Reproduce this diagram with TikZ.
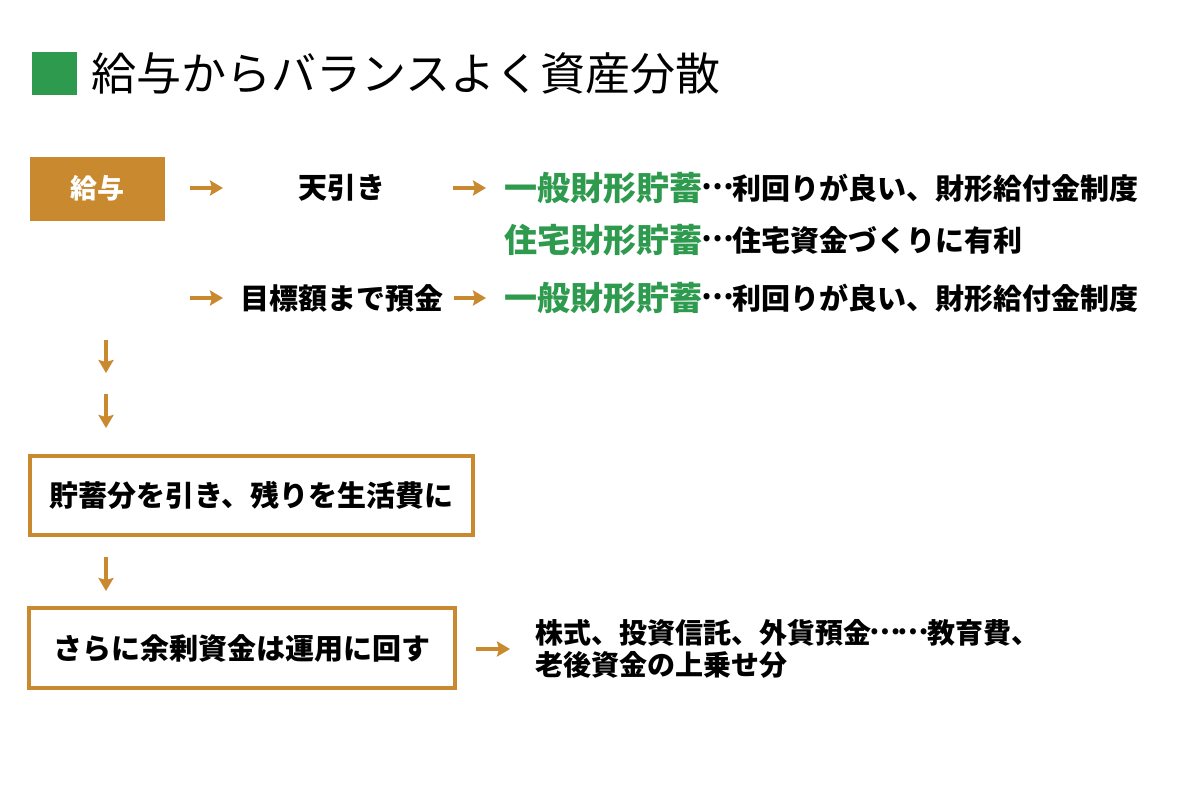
\documentclass[tikz,border=0pt]{standalone}
\usepackage{fontspec}
\setmainfont{Noto Sans CJK JP}
\usetikzlibrary{arrows.meta}
\definecolor{org}{HTML}{C8892F}
\definecolor{grn}{HTML}{2E9A4E}
\newcommand{\fs}[2]{\fontsize{#1}{#2}\selectfont}
\newcommand{\el}{\makebox[1em][c]{\raisebox{0.32em}{…}}}
\begin{document}
\begin{tikzpicture}[x=0.5pt,y=-0.5pt,
  arr/.style={draw=org,line width=2pt,-{Stealth[length=6.5pt,width=7.5pt,inset=1pt]}},
  txt/.style={inner sep=0pt,anchor=west,font=\fs{14.5pt}{17pt}\bfseries},
  grtxt/.style={inner sep=0pt,anchor=west,text=grn,font=\fs{16.5pt}{19pt}\bfseries},
  obox/.style={draw=org,line width=1.75pt,inner sep=0pt,font=\fs{14.5pt}{17pt}\bfseries},
  ]
\fill[white] (0,0) rectangle (1200,800);
\useasboundingbox (0,0) rectangle (1200,800);

% title
\node[fill=grn,minimum width=22.5pt,minimum height=21.5pt,inner sep=0pt] (sq) at (54.5,73.5) {};
\node[inner sep=0pt,anchor=west,font=\fs{22.5pt}{26pt}] (title) at (91,73) {給与からバランスよく資産分散};

% salary box
\node[fill=org,text=white,minimum width=67.5pt,minimum height=32pt,inner sep=0pt,font=\fs{13.5pt}{16pt}\bfseries] (kyuyo) at (97.5,188.5) {給与};

% row 1
\node[txt] (tenbiki) at (298,188) {天引き};
\node[grtxt] (g1) at (504,188) {一般財形貯蓄};
\node[txt] (d1) at (g1.east) {\el 利回りが良い、財形給付金制度};
% row 2
\node[grtxt] (g2) at (504,240) {住宅財形貯蓄};
\node[txt] (d2) at (g2.east) {\el 住宅資金づくりに有利};
% row 3
\node[txt] (mokuhyo) at (240,298) {目標額まで預金};
\node[grtxt] (g3) at (504,298) {一般財形貯蓄};
\node[txt] (d3) at (g3.east) {\el 利回りが良い、財形給付金制度};

% boxes
\node[obox,minimum width=221.5pt,minimum height=39.5pt] (box2) at (251.5,495.5) {貯蓄分を引き、残りを生活費に};
\node[obox,minimum width=213pt,minimum height=40pt] (box3) at (242,648) {さらに余剰資金は運用に回す};
\node[inner sep=0pt,anchor=west,align=left,font=\fs{14pt}{16pt}\bfseries] (inv) at (535,649) {株式、投資信託、外貨預金\el\el 教育費、\\老後資金の上乗せ分};

% coordinates for free arrow ends
\coordinate (r3s) at (190,298);
\coordinate (v1s) at (106,340);
\coordinate (v1e) at (106,373);
\coordinate (v2s) at (106,394);
\coordinate (v2e) at (106,428);
\coordinate (v3s) at (106,557);
\coordinate (v3e) at (106,591);

% arrows
\draw[arr,shorten <=12.5pt,shorten >=37.5pt] (kyuyo.east |- tenbiki.west) -- (tenbiki.west);
\draw[arr,shorten <=33.5pt,shorten >=9pt] (tenbiki.east) -- (g1.west);
\draw[arr,shorten >=8.5pt] (r3s) -- (mokuhyo.west);
\draw[arr,shorten <=5pt,shorten >=9pt] (mokuhyo.east) -- (g3.west);
\draw[arr] (v1s) -- (v1e);
\draw[arr] (v2s) -- (v2e);
\draw[arr] (v3s) -- (v3e);
\draw[arr,shorten <=9.5pt,shorten >=12.5pt] (box3.east |- inv.west) -- (inv.west);
\end{tikzpicture}
\end{document}
